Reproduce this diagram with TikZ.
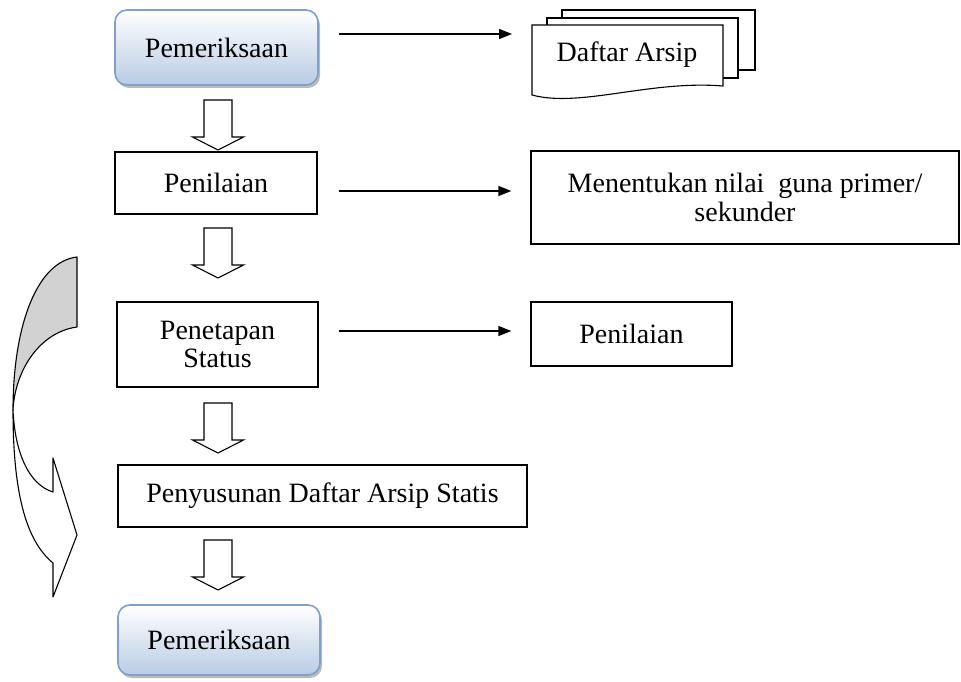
\documentclass[tikz,border=0pt]{standalone}
\usepackage{fontspec}
\setmainfont{Liberation Serif}
\usetikzlibrary{arrows.meta,shadows}
\definecolor{bordblue}{RGB}{128,160,204}
\definecolor{fillblue}{RGB}{184,204,228}
\definecolor{backgray}{RGB}{210,210,210}
\begin{document}
\begin{tikzpicture}[x=1pt,y=-1pt,
  txt/.style={font=\fontsize{28}{28.5}\selectfont, align=center},
  plain/.style={txt, draw=black, line width=1.2pt, fill=white, inner sep=0pt},
  rbox/.style={txt, draw=bordblue, line width=1.6pt, rounded corners=12pt, top color=white, bottom color=fillblue, inner sep=0pt, drop shadow={shadow xshift=2pt, shadow yshift=-3pt, fill=black!45, opacity=0.6}},
  conn/.style={line width=1.3pt, -{Triangle[length=13pt,width=10pt]}},
  hollow/.style={draw=black, line width=1.1pt, fill=white, line join=miter},
  doc/.style={draw=black, line width=1.1pt, fill=white},
  curv/.style={draw=black, line width=1.1pt, line join=round},
  hdown/.pic={\draw[hollow] (-14,0) -- (14,0) -- (14,37) -- (25.5,37) -- (0,50) -- (-25.5,37) -- (-14,37) -- cycle;}
]
\useasboundingbox (0,0) rectangle (961,682);

% main boxes
\node[rbox, minimum width=203pt, minimum height=75pt] (p1) at (216.5,47.5) {Pemeriksaan};
\node[plain, minimum width=202pt, minimum height=62pt] (pen1) at (216,183) {Penilaian};
\node[plain, minimum width=201pt, minimum height=85pt] (pt) at (217.5,344.5) {Penetapan\\Status};
\node[plain, minimum width=409pt, minimum height=62pt] (pds) at (322.5,496) {Penyusunan Daftar Arsip Statis};
\node[rbox, minimum width=202pt, minimum height=70pt] (p2) at (219,640) {Pemeriksaan};

% right boxes
\node[plain, minimum width=428pt, minimum height=93pt] (mn) at (745,197.5) {Menentukan nilai\ \ guna primer/\\sekunder};
\node[plain, minimum width=201pt, minimum height=64pt] (pen2) at (631.5,334) {Penilaian};

% multidocument
\filldraw[doc] (562,10) rectangle (755,70);
\filldraw[doc] (547,18) rectangle (738,78);
\filldraw[doc] (532,25) -- (723,25) -- (723,86) .. controls (650,80) and (580,108) .. (532,95) -- cycle;
\coordinate (docL) at (532,34);
\node[txt] (da) at (627,55) {Daftar Arsip};

% connectors
\draw[conn] ([xshift=20pt,yshift=13.5pt]p1.east) -- ([xshift=-20pt]docL);
\draw[conn] ([xshift=21pt,yshift=-8pt]pen1.east) -- ([xshift=-19pt,yshift=6.5pt]mn.west);
\draw[conn] ([xshift=20pt,yshift=13.5pt]pt.east) -- ([xshift=-19pt,yshift=3pt]pen2.west);

% hollow down arrows
\pic at (218,100) {hdown};
\pic at (218,228) {hdown};
\pic at (218,403) {hdown};
\pic at (218,540) {hdown};

% curved arrow on the left
\filldraw[curv, fill=white] (13,410) .. controls (13,490) and (25,540) .. (53,563) -- (53,597) -- (77,535) -- (53,458) -- (53,492) .. controls (30,485) and (15,455) .. (13,410) -- cycle;
\filldraw[curv, fill=backgray] (77,257) .. controls (35,262) and (13,330) .. (13,410) .. controls (15,370) and (40,332) .. (77,327) -- cycle;
\end{tikzpicture}
\end{document}
